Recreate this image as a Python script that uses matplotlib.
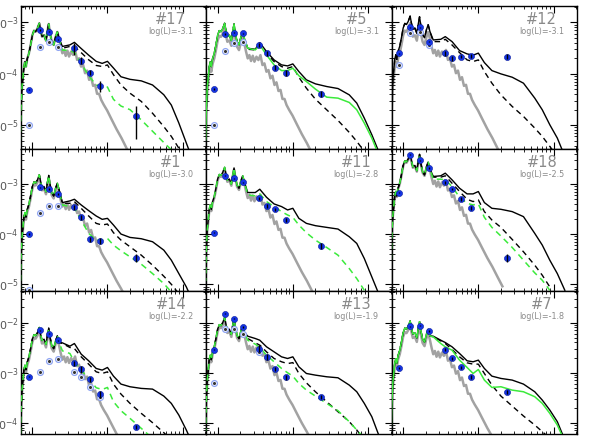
import numpy as np
import matplotlib.pyplot as plt
from matplotlib.ticker import LogLocator, NullFormatter, LogFormatterMathtext

# photometric bands (micron): z, J, H, K, IRAC 1-4, MIPS 24
bands = [0.89, 1.25, 1.65, 2.2, 3.6, 4.5, 5.8, 8.0, 24.0]

phot_logw = [-0.160, -0.152, -0.138, -0.125, -0.112, -0.098, -0.085, -0.067, -0.045,
             -0.023, 0.0, 0.022, 0.044, 0.067, 0.093, 0.111, 0.129, 0.156, 0.182,
             0.200, 0.218, 0.236, 0.258, 0.284, 0.311, 0.333, 0.356, 0.378, 0.400,
             0.422, 0.444, 0.467, 0.489, 0.516, 0.542, 0.569, 0.596, 0.622, 0.649,
             0.676, 0.702, 0.729, 0.756, 0.782, 0.809, 0.836, 0.862, 0.889, 0.916,
             0.951, 0.996, 1.053, 1.120, 1.187, 1.253, 1.320]
phot_logf = [-5.285, -4.702, -4.262, -4.068, -3.862, -3.771, -3.862, -3.706, -3.603,
             -3.441, -3.253, -3.162, -3.182, -3.124, -3.020, -3.162, -3.279, -3.253, -3.357,
             -3.182, -3.033, -3.214, -3.376, -3.441, -3.279, -3.188, -3.318, -3.473, -3.603,
             -3.538, -3.654, -3.551, -3.667, -3.570, -3.635, -3.538, -3.732, -3.700, -3.862,
             -3.829, -3.991, -3.940, -4.120, -4.068, -4.237, -4.217, -4.392, -4.392, -4.509,
             -4.606, -4.716, -4.884, -5.078, -5.253, -5.447, -5.640]

# wavelengths where the disk models leave the photosphere (log10 micron)
disk_logw = [0.40, 0.50, 0.56, 0.65, 0.75, 0.85, 0.93, 1.00, 1.08, 1.18, 1.30,
             1.45, 1.60, 1.75, 1.85, 1.95, 2.05, 2.15]

names = ['#17', '#5', '#12', '#1', '#11', '#18', '#14', '#13', '#7']
logL = ['-3.1', '-3.1', '-3.1', '-3.0', '-2.8', '-2.5', '-2.2', '-1.9', '-1.8']
phot_off = [0.0, -0.1, 0.0, 0.15, 0.32, 0.6, 0.86, 1.07, 0.97]
model_off = [0.0, 0.0, 0.14, 0.2, 0.35, 0.62, 0.92, 1.12, 1.05]
green_ls = ['--', '-', None, '--', '--', '--', '--', '--', '-']

# panel #17
p17_obs = [-4.314, -3.149, -3.182, -3.331, -3.505, -3.745, -3.978, -4.237, -4.832]
p17_err = [0.03, 0.03, 0.03, 0.03, 0.25, 0.15, 0.12, 0.25, 0.63]
p17_raw = [-5.007, -3.473, -3.389, -3.473]
p17_solid = [-3.47, -3.44, -3.39, -3.51, -3.64, -3.76, -3.80, -3.76, -3.89, -4.06, -4.11,
             -4.14, -4.22, -4.41, -4.61, -4.96, -5.35, -5.74]
p17_dash = [-3.505, -3.47, -3.47, -3.59, -3.73, -3.84, -3.86, -3.83, -4.02, -4.22, -4.38,
            -4.54, -4.77, -5.03, -5.22, -5.45, -5.67]
p17_green = [-3.54, -3.55, -3.59, -3.80, -4.04, -4.22, -4.24, -4.26, -4.50, -4.63, -4.70,
             -4.90, -5.12, -5.34, -5.48, -5.62]

# panel #5
p5_obs = [-4.301, -3.227, -3.201, -3.214, -3.441, -3.603, -3.881, -3.991, -4.392]
p5_err = [0.03, 0.03, 0.03, 0.03, 0.08, 0.12, 0.12, 0.13, 0.15]
p5_raw = [-4.994, -3.551, -3.408, -3.376]
p5_solid = [-3.505, -3.525, -3.395, -3.57, -3.732, -3.829, -3.849, -3.81, -3.959, -4.12,
            -4.198, -4.25, -4.289, -4.412, -4.573, -4.865, -5.188, -5.545]
p5_dash = [-3.525, -3.538, -3.46, -3.603, -3.764, -3.862, -3.894, -3.862, -4.07, -4.282,
           -4.496, -4.703, -4.91, -5.143, -5.318, -5.512, -5.74]
p5_green = [-3.505, -3.538, -3.441, -3.635, -3.829, -3.94, -3.94, -3.894, -4.04, -4.153,
            -4.30, -4.457, -4.476, -4.56, -4.703, -4.962, -5.253, -5.61]

# panel #12
p12_obs = [-3.603, -3.098, -3.098, -3.376, -3.603, -3.70, -3.667, -3.654, -3.667]
p12_err = [0.03, 0.03, 0.03, 0.03, 0.1, 0.1, 0.08, 0.08, 0.1]
p12_raw = [-3.829, -3.214, -3.18, -3.44]
p12_solid = [-3.344, -3.331, -3.279, -3.376, -3.551, -3.615, -3.64, -3.60, -3.784, -3.94,
             -4.004, -4.069, -4.185, -4.476, -4.703, -4.994, -5.253, -5.61]
p12_dash = [-3.376, -3.376, -3.331, -3.441, -3.59, -3.732, -3.764, -3.732, -3.959, -4.185,
            -4.412, -4.638, -4.832, -5.059, -5.221, -5.415, -5.61]
p12_green = None

# panel #1
p1_obs = [-4.0, -3.067, -3.10, -3.20, -3.467, -3.667, -4.10, -4.133, -4.467]
p1_err = [0.03, 0.03, 0.03, 0.03, 0.12, 0.1, 0.12, 0.15, 0.18]
p1_raw = [-5.12, -3.587, -3.433, -3.433]
p1_solid = [-3.373, -3.34, -3.307, -3.42, -3.533, -3.64, -3.707, -3.687, -3.82, -4.0,
            -4.067, -4.093, -4.153, -4.32, -4.52, -4.787, -5.053, -5.387]
p1_dash = [-3.387, -3.387, -3.353, -3.487, -3.64, -3.787, -3.82, -3.80, -3.973, -4.12,
           -4.253, -4.42, -4.62, -4.84, -5.0, -5.187, -5.42]
p1_green = [-3.42, -3.453, -3.487, -3.72, -3.987, -4.12, -4.12, -4.087, -4.22, -4.333,
            -4.453, -4.60, -4.787, -4.987, -5.153, -5.32]

# panel #11
p11_obs = [-3.973, -2.84, -2.887, -2.967, -3.287, -3.44, -3.507, -3.72, -4.233]
p11_err = [0.03, 0.03, 0.03, 0.03, 0.08, 0.08, 0.08, 0.1, 0.12]
p11_raw = []
p11_solid = [-3.173, -3.173, -3.107, -3.267, -3.40, -3.453, -3.52, -3.487, -3.687, -3.787,
             -3.833, -3.867, -3.90, -4.053, -4.187, -4.487, -4.853, -5.22]
p11_dash = None
p11_green = [-3.22, -3.24, -3.20, -3.353, -3.453, -3.553, -3.62, -3.667, -3.82, -3.973,
             -4.12, -4.267, -4.42, -4.687, -4.887, -5.12]

# panel #18
p18_obs = [-3.173, -2.42, -2.533, -2.687, -2.973, -3.10, -3.30, -3.473, -4.467]
p18_err = [0.03, 0.03, 0.03, 0.03, 0.06, 0.06, 0.08, 0.1, 0.18]
p18_raw = []
p18_solid = [-2.853, -2.84, -2.787, -2.92, -3.087, -3.20, -3.20, -3.153, -3.373, -3.487,
             -3.507, -3.553, -3.653, -3.987, -4.22, -4.52, -4.787, -5.12]
p18_dash = [-2.867, -2.867, -2.84, -2.987, -3.153, -3.307, -3.353, -3.32, -3.553, -3.72,
            -3.867, -4.107, -4.353, -4.62, -4.82, -5.053]
p18_green = [-2.907, -2.907, -2.92, -3.053, -3.267, -3.387, -3.42, -3.40, -3.667, -3.867,
             -4.04, -4.267, -4.52, -4.773, -4.92, -5.12]

# panel #14
p14_obs = [-3.083, -2.153, -2.22, -2.353, -2.817, -2.93, -3.136, -3.428, -4.079]
p14_err = [0.03, 0.03, 0.03, 0.03, 0.13, 0.15, 0.12, 0.16, 0.1]
p14_raw = [None, -2.996, -2.764, -2.738, -2.983, -3.096, -3.28, -3.495]
p14_solid = [-2.406, -2.472, -2.419, -2.631, -2.764, -2.917, -2.95, -2.897, -3.07, -3.229,
             -3.282, -3.315, -3.329, -3.468, -3.614, -3.847, -4.146, -4.478]
p14_dash = [-2.419, -2.498, -2.519, -2.685, -2.831, -2.984, -3.017, -2.984, -3.229, -3.428,
            -3.614, -3.813, -3.999, -4.198, -4.344]
p14_green = [-2.565, -2.618, -2.784, -2.95, -3.116, -3.302, -3.336, -3.296, -3.581, -3.76,
             -3.913, -4.112, -4.311]

# panel #13
p13_obs = [-2.539, -1.821, -1.921, -2.087, -2.519, -2.685, -2.931, -3.097, -3.482]
p13_err = [0.03, 0.03, 0.03, 0.03, 0.15, 0.12, 0.1, 0.12, 0.08]
p13_raw = [-3.217, -2.121, -2.134, -2.22, -2.585]
p13_solid = [-2.273, -2.319, -2.353, -2.485, -2.585, -2.685, -2.718, -2.685, -2.884, -3.017,
             -3.05, -3.083, -3.103, -3.249, -3.382, -3.614, -3.88, -4.278]
p13_dash = [-2.319, -2.405, -2.452, -2.585, -2.718, -2.784, -2.82, -2.80, -3.017, -3.203,
            -3.382, -3.581, -3.78, -3.979, -4.145, -4.344]
p13_green = [-2.353, -2.432, -2.499, -2.651, -2.784, -2.917, -3.003, -3.07, -3.216, -3.349,
             -3.468, -3.614, -3.76, -3.979, -4.145, -4.311]

# panel #7
p7_obs = [-2.906, -2.074, -2.06, -2.167, -2.539, -2.718, -2.897, -3.083, -3.382]
p7_err = [0.03, 0.03, 0.03, 0.03, 0.08, 0.08, 0.08, 0.1, 0.1]
p7_raw = []
p7_solid = [-2.273, -2.353, -2.399, -2.485, -2.618, -2.764, -2.784, -2.751, -2.917, -3.07,
            -3.116, -3.149, -3.229, -3.382, -3.548, -3.747, -3.979, -4.344]
p7_dash = [-2.286, -2.366, -2.419, -2.538, -2.685, -2.804, -2.831, -2.831, -3.017, -3.249,
           -3.468, -3.667, -3.866, -4.046, -4.178, -4.311]
p7_green = [-2.286, -2.419, -2.485, -2.552, -2.751, -2.897, -3.017, -2.937, -3.149, -3.296,
            -3.282, -3.349, -3.382, -3.481, -3.614, -3.813, -4.046, -4.378]

# y range of each row (log10 flux)
row_ylim = [(-5.46, -2.683), (-5.14, -2.30), (-4.225, -1.377)]

panels = [
    (p17_obs, p17_err, p17_raw, p17_solid, p17_dash, p17_green),
    (p5_obs, p5_err, p5_raw, p5_solid, p5_dash, p5_green),
    (p12_obs, p12_err, p12_raw, p12_solid, p12_dash, p12_green),
    (p1_obs, p1_err, p1_raw, p1_solid, p1_dash, p1_green),
    (p11_obs, p11_err, p11_raw, p11_solid, p11_dash, p11_green),
    (p18_obs, p18_err, p18_raw, p18_solid, p18_dash, p18_green),
    (p14_obs, p14_err, p14_raw, p14_solid, p14_dash, p14_green),
    (p13_obs, p13_err, p13_raw, p13_solid, p13_dash, p13_green),
    (p7_obs, p7_err, p7_raw, p7_solid, p7_dash, p7_green),
]

W, H = 598, 441
fig = plt.figure(figsize=(W / 100, H / 100), dpi=100)

col_x = [20.7, 206.0, 391.5, 577.0]
row_y = [6.0, 148.7, 291.3, 434.0]


def model_curve(vals, off):
    # photosphere-dominated part, then the disk part
    w = [x for x in phot_logw if x < 0.36]
    f = [y + off for x, y in zip(phot_logw, phot_logf) if x < 0.36]
    w = w + disk_logw[:len(vals)]
    f = f + list(vals)
    return 10 ** np.array(w), 10 ** np.array(f)


for i, (obs, err, raw, solid, dash, green) in enumerate(panels):
    r, c = divmod(i, 3)
    x0 = col_x[c] / W
    wd = (col_x[c + 1] - col_x[c]) / W
    y0 = 1 - row_y[r + 1] / H
    ht = (row_y[r + 1] - row_y[r]) / H
    ax = fig.add_axes([x0, y0, wd, ht])
    ax.set_xscale('log')
    ax.set_yscale('log')

    # photosphere
    ax.plot(10 ** np.array(phot_logw), 10 ** (np.array(phot_logf) + phot_off[i]),
            color='#a2a2a2', lw=1.8, zorder=1)
    # disk models
    xs, ys = model_curve(solid, model_off[i])
    ax.plot(xs, ys, color='black', lw=1.0, zorder=2)
    if dash is not None:
        xs, ys = model_curve(dash, model_off[i])
        ax.plot(xs, ys, color='black', lw=1.0, ls=(0, (4, 3)), zorder=3)
    if green is not None:
        xs, ys = model_curve(green, model_off[i])
        ls = '-' if green_ls[i] == '-' else (2, (4, 3))
        ax.plot(xs, ys, color='#3bea3b', lw=1.1, ls=ls, zorder=4)

    # observed (not dereddened) photometry
    for b, v in zip(bands, raw):
        if v is None:
            continue
        ax.plot(b, 10 ** v, 'o', ms=4.2, mfc='white', mec='#8ea4f2', mew=0.9, zorder=5)
        ax.plot(b, 10 ** v, 'o', ms=1.2, color='#333333', zorder=6)

    # dereddened photometry
    f = 10 ** np.array(obs)
    e = np.array(err)
    ax.plot(bands, f, 'o', ms=4.4, color='#1434e8', mec='#0a1a9a', mew=0.4, zorder=7)
    ax.errorbar(bands, f, yerr=[f * e, f * e], fmt='none', ecolor='black',
                elinewidth=1.0, capsize=0, zorder=8)

    ax.set_xlim(0.70, 205)
    lo, hi = row_ylim[r]
    ax.set_ylim(10 ** lo, 10 ** hi)

    ax.xaxis.set_major_locator(LogLocator(base=10, numticks=10))
    ax.xaxis.set_minor_locator(LogLocator(base=10, subs=np.arange(2, 10), numticks=10))
    ax.yaxis.set_major_locator(LogLocator(base=10, numticks=10))
    ax.yaxis.set_minor_locator(LogLocator(base=10, subs=np.arange(2, 10), numticks=10))
    ax.xaxis.set_major_formatter(NullFormatter())
    ax.xaxis.set_minor_formatter(NullFormatter())
    ax.yaxis.set_minor_formatter(NullFormatter())
    if c == 0:
        ax.yaxis.set_major_formatter(LogFormatterMathtext())
    else:
        ax.yaxis.set_major_formatter(NullFormatter())
    ax.tick_params(which='both', direction='in', top=True, right=True,
                   colors='black', labelcolor='#555555', labelsize=8, pad=1.5)
    ax.tick_params(which='major', length=5, width=0.8)
    ax.tick_params(which='minor', length=2.5, width=0.6)
    for s in ax.spines.values():
        s.set_linewidth(1.0)

    ax.text(0.81, 0.905, names[i], transform=ax.transAxes, ha='center', va='center',
            fontsize=10.5, color='#8a8a8a')
    ax.text(0.81, 0.82, 'log(L)=-' + logL[i][1:], transform=ax.transAxes, ha='center',
            va='center', fontsize=5.8, color='#8a8a8a')

fig.savefig('out.png', dpi=100)
